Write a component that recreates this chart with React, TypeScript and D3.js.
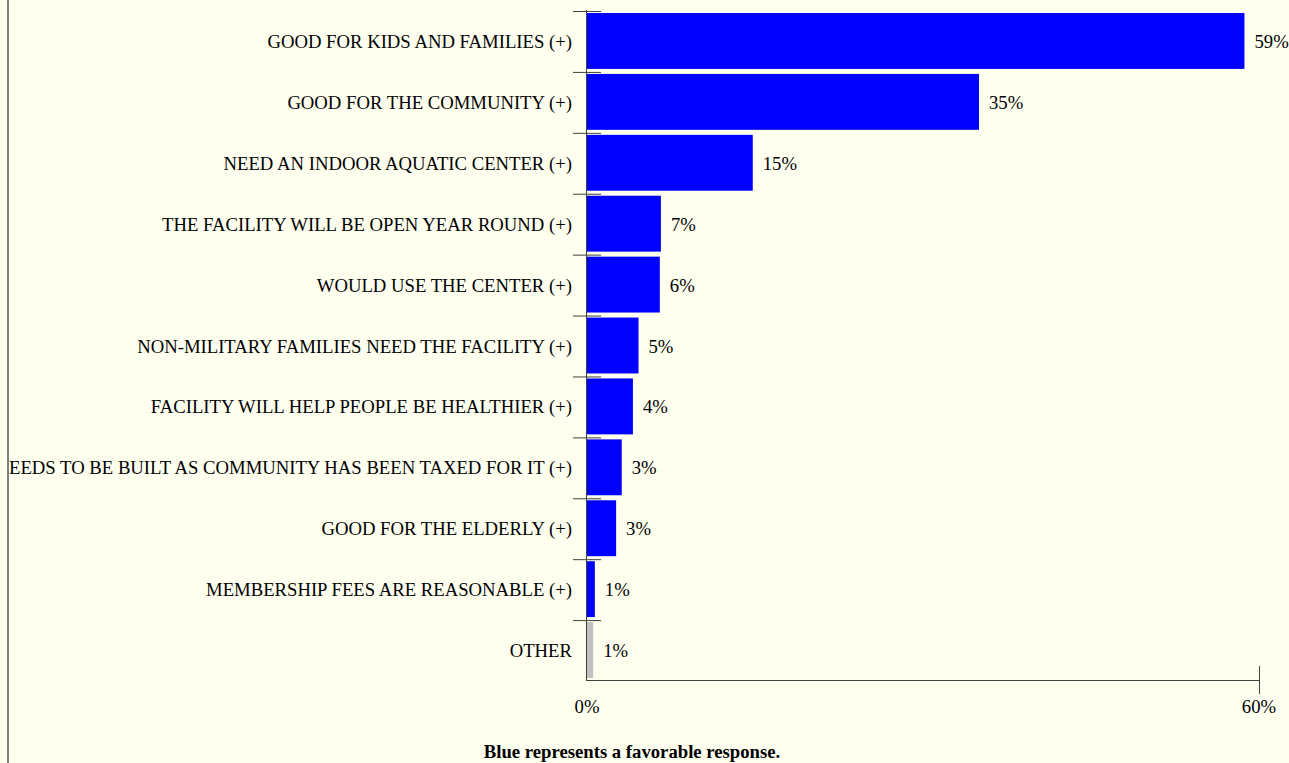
import React from "react";
import * as d3 from "d3";

const categories = [
  "GOOD FOR KIDS AND FAMILIES (+)",
  "GOOD FOR THE COMMUNITY (+)",
  "NEED AN INDOOR AQUATIC CENTER (+)",
  "THE FACILITY WILL BE OPEN YEAR ROUND (+)",
  "WOULD USE THE CENTER (+)",
  "NON-MILITARY FAMILIES NEED THE FACILITY (+)",
  "FACILITY WILL HELP PEOPLE BE HEALTHIER (+)",
  "NEEDS TO BE BUILT AS COMMUNITY HAS BEEN TAXED FOR IT (+)",
  "GOOD FOR THE ELDERLY (+)",
  "MEMBERSHIP FEES ARE REASONABLE (+)",
  "OTHER",
];
const values = [58.7, 35.0, 14.8, 6.6, 6.5, 4.6, 4.1, 3.1, 2.6, 0.7, 0.55];
const valueLabels = ["59%", "35%", "15%", "7%", "6%", "5%", "4%", "3%", "3%", "1%", "1%"];
const favorable = [true, true, true, true, true, true, true, true, true, true, false];
const xTicks = [0, 60];
const xTickLabels = ["0%", "60%"];
const caption = "Blue represents a favorable response.";

const W = 1289;
const H = 763;
const FONT = "'Liberation Serif', 'Times New Roman', serif";
const FS = 18.7;

export default function App() {
  const x = d3.scaleLinear().domain([0, 60]).range([587, 1259]);
  const y = d3.scaleBand<string>().domain(categories).range([11, 681]).padding(0);
  const bw = y.bandwidth();
  const axisColor = "#404040";

  return (
    <svg
      width={W}
      height={H}
      style={{ position: "absolute", left: 0, top: 0, display: "block" }}
      fontFamily={FONT}
    >
      <defs>
        <clipPath id="frame">
          <rect x={9} y={0} width={W - 9} height={H} />
        </clipPath>
      </defs>
      <rect x={0} y={0} width={W} height={H} fill="#FFFFF0" />
      <line x1={8} x2={8} y1={0} y2={H} stroke="#808080" strokeWidth={2} />
      <g clipPath="url(#frame)">
        {categories.map((c, i) => {
          const y0 = y(c)!;
          return (
            <g key={c}>
              <rect
                x={x(0)}
                y={y0 + 2}
                width={x(values[i]) - x(0)}
                height={bw - 5}
                fill={favorable[i] ? "#0000FF" : "#C0C0C0"}
              />
              <line
                x1={x(0) - 14}
                x2={x(0) + 14}
                y1={y0 + 0.5}
                y2={y0 + 0.5}
                stroke={axisColor}
                strokeWidth={1}
              />
              <text
                x={x(0) - 15}
                y={y0 + bw / 2 + FS * 0.35}
                textAnchor="end"
                fontSize={FS}
                fill="#000"
              >
                {c}
              </text>
              <text
                x={x(values[i]) + 10}
                y={y0 + bw / 2 + FS * 0.35}
                textAnchor="start"
                fontSize={FS}
                fill="#000"
              >
                {valueLabels[i]}
              </text>
            </g>
          );
        })}
        <line x1={x(0) - 0.5} x2={x(0) - 0.5} y1={10} y2={681} stroke={axisColor} strokeWidth={1} />
        <line x1={x(0)} x2={x(60)} y1={680.5} y2={680.5} stroke={axisColor} strokeWidth={1} />
        {xTicks.map((t, i) => (
          <g key={t}>
            {t > 0 && (
              <line x1={x(t) + 0.5} x2={x(t) + 0.5} y1={666} y2={694} stroke={axisColor} strokeWidth={1} />
            )}
            <text x={x(t)} y={713} textAnchor="middle" fontSize={FS} fill="#000">
              {xTickLabels[i]}
            </text>
          </g>
        ))}
        <text x={632} y={758} textAnchor="middle" fontSize={FS} fontWeight="bold" fill="#000">
          {caption}
        </text>
      </g>
    </svg>
  );
}
